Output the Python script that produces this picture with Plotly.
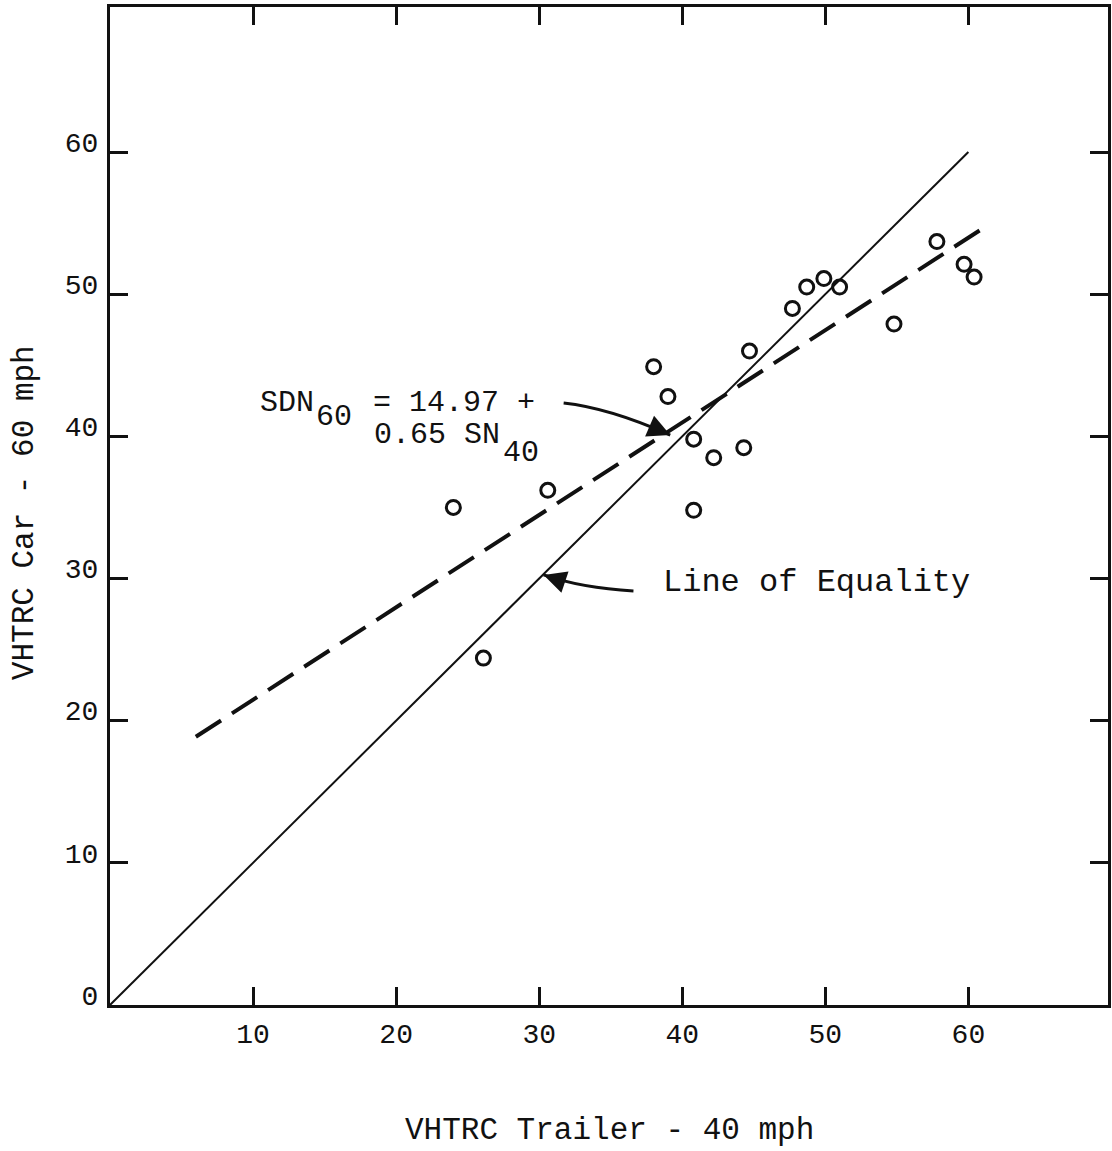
import plotly.graph_objects as go

# Skid numbers measured on the same sites
trailer_40 = [24.0, 26.1, 30.6, 38.0, 39.0, 40.8, 40.8, 42.2, 44.3, 44.7,
              47.7, 48.7, 49.9, 51.0, 54.8, 57.8, 59.7, 60.4]
car_60 = [35.0, 24.4, 36.2, 44.9, 42.8, 39.8, 34.8, 38.5, 39.2, 46.0,
          49.0, 50.5, 51.1, 50.5, 47.9, 53.7, 52.1, 51.2]

# Regression SDN60 = 14.97 + 0.65 SN40, drawn over the fitted span
fit_intercept = 14.97
fit_slope = 0.65
fit_x = [6.0, 61.0]
fit_y = [fit_intercept + fit_slope * v for v in fit_x]

# Line of equality
equal_x = [0, 60]
equal_y = [0, 60]

x_ticks = [10, 20, 30, 40, 50, 60]
y_ticks = [0, 10, 20, 30, 40, 50, 60]

MONO = "Liberation Mono, DejaVu Sans Mono, monospace"
INK = "#111111"

fig = go.Figure()

fig.add_trace(go.Scatter(
    x=equal_x, y=equal_y, mode="lines",
    line=dict(color=INK, width=2), hoverinfo="skip", showlegend=False))

fig.add_trace(go.Scatter(
    x=fit_x, y=fit_y, mode="lines",
    line=dict(color=INK, width=4, dash="30px,13px"),
    hoverinfo="skip", showlegend=False))

fig.add_trace(go.Scatter(
    x=trailer_40, y=car_60, mode="markers",
    marker=dict(symbol="circle-open", size=14, color=INK,
                line=dict(width=3, color=INK)),
    showlegend=False))

# Curved leader arrows (quadratic paths in data space)
arrows = [
    # (start, control, tip, head offset in px)
    ((31.71, 42.34), (34.91, 41.99), (39.16, 40.09), (-15, -6.5)),
    ((36.59, 29.12), (32.96, 29.33), (30.31, 30.25), (15, 5)),
]
for (sx, sy), (cx, cy), (tx, ty), (ax, ay) in arrows:
    fig.add_shape(type="path",
                  path=f"M {sx},{sy} Q {cx},{cy} {tx},{ty}",
                  line=dict(color=INK, width=3), xref="x", yref="y")
    fig.add_annotation(x=tx, y=ty, ax=ax, ay=ay, xref="x", yref="y",
                       text="", showarrow=True, arrowhead=2,
                       arrowsize=1.8, arrowwidth=2.5, arrowcolor=INK)

labels = [
    ("SDN", 10.31, 42.34, 30),
    ("60", 14.29, 41.36, 30),
    ("= 14.97 +", 18.26, 42.34, 30),
    ("0.65 SN", 18.33, 40.09, 30),
    ("40", 27.35, 38.83, 30),
    ("Line of Equality", 38.54, 29.75, 32),
]
for txt, x, y, size in labels:
    fig.add_annotation(x=x, y=y, xref="x", yref="y", text=txt,
                       showarrow=False, xanchor="left", yanchor="middle",
                       font=dict(family=MONO, size=size, color=INK))

fig.add_annotation(x=0.501, y=-0.1255, xref="paper", yref="paper",
                   text="VHTRC Trailer - 40 mph", showarrow=False,
                   xanchor="center", yanchor="middle",
                   font=dict(family=MONO, size=31, color=INK))
fig.add_annotation(x=-0.085, y=0.493, xref="paper", yref="paper",
                   text="VHTRC Car - 60 mph", showarrow=False, textangle=-90,
                   xanchor="center", yanchor="middle",
                   font=dict(family=MONO, size=31, color=INK))

axis_common = dict(
    showgrid=False, zeroline=False,
    showline=True, linewidth=3, linecolor=INK, mirror="allticks",
    ticks="inside", ticklen=18, tickwidth=2.5, tickcolor=INK,
    tickfont=dict(family=MONO, size=28, color=INK),
)

fig.update_xaxes(range=[0, 69.76], tickvals=x_ticks,
                 ticktext=[str(v) for v in x_ticks],
                 ticklabelstandoff=1, **axis_common)
fig.update_yaxes(range=[0, 70.2], tickvals=y_ticks,
                 ticktext=[str(v) for v in y_ticks],
                 ticklabelstandoff=3, ticklabelshift=-10, **axis_common)

fig.update_layout(
    width=1112, height=1151,
    margin=dict(l=110, r=1, t=7, b=146),
    plot_bgcolor="white", paper_bgcolor="white",
    showlegend=False,
)

fig.write_html("out.html")
